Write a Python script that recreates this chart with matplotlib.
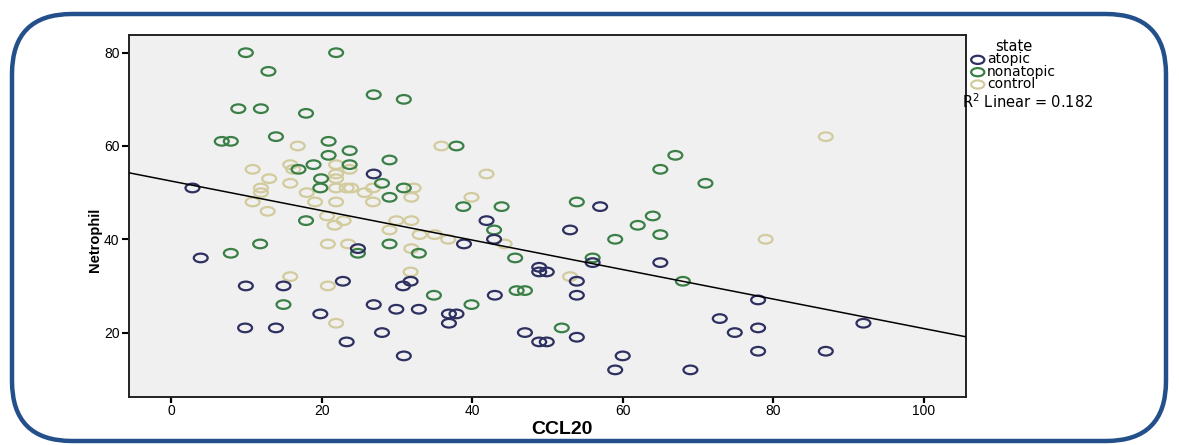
import numpy as np
import matplotlib
matplotlib.use("Agg")
import matplotlib.pyplot as plt
from matplotlib.path import Path
from matplotlib.patches import FancyBboxPatch
from matplotlib.transforms import IdentityTransform

# CCL20 vs Netrophil by state
atopic_x = [2.8, 3.9, 26.9, 9.9, 14.9, 9.8, 13.9, 19.8, 23.3, 22.8, 24.8, 26.9,
            28.0, 29.9, 32.9, 30.9, 30.8, 31.8, 38.9, 41.9, 42.9, 36.9, 37.9, 36.9,
            43.0, 48.9, 48.9, 49.9, 53.9, 53.9, 47.0, 53.9, 48.9, 49.9, 60.0, 59.0,
            69.0, 53.0, 57.0, 56.0, 65.0, 72.9, 74.9, 78.0, 78.0, 92.0, 78.0, 87.0]
atopic_y = [51, 36, 54, 30, 30, 21, 21, 24, 18, 31, 38, 26,
            20, 25, 25, 15, 30, 31, 39, 44, 40, 24, 24, 22,
            28, 34, 33, 33, 31, 28, 20, 19, 18, 18, 15, 12,
            12, 42, 47, 35, 35, 23, 20, 21, 27, 22, 16, 16]

nonatopic_x = [9.9, 21.9, 12.9, 26.9, 30.9, 8.9, 11.9, 17.9, 6.7, 7.9, 13.9, 20.9,
               20.9, 23.7, 29.0, 18.9, 23.7, 16.9, 19.9, 28.0, 19.8, 30.9, 29.0, 17.9,
               11.8, 7.9, 14.9, 24.8, 29.0, 32.9, 34.9, 39.9, 42.9, 45.9, 47.0, 51.9,
               56.0, 59.0, 62.0, 64.0, 65.0, 68.0, 53.9, 38.8, 43.9, 37.9, 67.0, 65.0,
               71.0, 45.7]
nonatopic_y = [80, 80, 76, 71, 70, 68, 68, 67, 61, 61, 62, 61,
               58, 59, 57, 56, 56, 55, 53, 52, 51, 51, 49, 44,
               39, 37, 26, 37, 39, 37, 28, 26, 42, 29, 29, 21,
               36, 40, 43, 45, 41, 31, 48, 47, 47, 60, 58, 55,
               52, 36]

control_x = [16.8, 35.9, 15.8, 16.2, 21.9, 10.8, 13.0, 15.8, 21.9, 21.9, 21.9, 23.3,
             11.9, 11.9, 18.0, 10.8, 19.1, 21.9, 12.8, 20.7, 22.9, 21.7, 23.7, 23.9,
             25.7, 26.8, 32.2, 31.9, 26.8, 41.9, 39.9, 29.9, 31.9, 29.0, 33.0, 35.0,
             36.8, 31.9, 23.5, 20.8, 15.8, 20.8, 21.9, 31.8, 44.3, 53.0, 79.0, 87.0]
control_y = [60, 60, 56, 55, 56, 55, 53, 52, 54, 53, 51, 51,
             51, 50, 50, 48, 48, 48, 46, 45, 44, 43, 55, 51,
             50, 51, 51, 49, 48, 54, 49, 44, 44, 42, 41, 41,
             40, 38, 39, 39, 32, 30, 22, 33, 39, 32, 40, 62]

states = ["atopic", "nonatopic", "control"]
state_colors = {"atopic": "#2d3060", "nonatopic": "#3a7f46", "control": "#d2cb9e"}
r2_text = "0.182"
x_ticks = [0, 20, 40, 60, 80, 100]
y_ticks = [20, 40, 60, 80]

fig = plt.figure(figsize=(11.79, 4.45), dpi=100)
fig.patch.set_facecolor("white")

ax = fig.add_axes([0.109, 0.108, 0.7101, 0.8134])
ax.set_facecolor("#f0f0f0")

# flattened open-oval marker
circle = Path.unit_circle()
oval = Path(circle.vertices * np.array([1.0, 0.62]), circle.codes)

series = {
    "atopic": (atopic_x, atopic_y),
    "nonatopic": (nonatopic_x, nonatopic_y),
    "control": (control_x, control_y),
}
handles = {}
for name in ["control", "nonatopic", "atopic"]:
    xs, ys = series[name]
    handles[name] = ax.scatter(xs, ys, marker=oval, s=100, facecolors="none",
                               edgecolors=state_colors[name], linewidths=1.6,
                               zorder=3)

# linear fit over all cases
all_x = np.concatenate([atopic_x, nonatopic_x, control_x])
all_y = np.concatenate([atopic_y, nonatopic_y, control_y])
slope, intercept = np.polyfit(all_x, all_y, 1)

ax.set_xlim(-5.7, 105.6)
ax.set_ylim(6.2, 83.8)
xl = np.array(ax.get_xlim())
ax.plot(xl, intercept + slope * xl, color="black", lw=1.1, zorder=4)

ax.set_xticks(x_ticks)
ax.set_yticks(y_ticks)
ax.tick_params(axis="x", direction="out", length=4, width=1.6,
               labelsize=10, pad=1)
ax.tick_params(axis="y", direction="out", length=5, width=1.5,
               labelsize=10, pad=1.5)
for lab in ax.get_xticklabels() + ax.get_yticklabels():
    lab.set_family("Liberation Sans")
for sp in ax.spines.values():
    sp.set_linewidth(1.4)
    sp.set_color("#222222")

fig.text(0.4767, 0.034, "CCL20", ha="center", va="center",
         fontsize=14, fontweight="bold", family="Liberation Sans")
fig.text(0.081, 0.461, "Netrophil", ha="center", va="center", rotation=90,
         fontsize=10.5, fontweight="bold", family="Liberation Sans")

leg = ax.legend([handles[s] for s in states], states, title="state",
                loc="upper left", bbox_to_anchor=(0.824, 0.912),
                bbox_transform=fig.transFigure, frameon=False,
                fontsize=10, title_fontsize=10.5, labelspacing=-0.12,
                handletextpad=0.2, handlelength=0.9, borderpad=0,
                borderaxespad=0, markerscale=0.95)

fig.text(0.816, 0.771, r"R$^2$ Linear = " + r2_text, ha="left", va="center",
         fontsize=10.5)

# rounded frame around the whole panel
frame = FancyBboxPatch((12, 4), 1154, 427,
                       boxstyle="round,pad=0,rounding_size=60",
                       transform=IdentityTransform(), fill=False,
                       edgecolor="#23508a", linewidth=3.2)
fig.add_artist(frame)

fig.savefig("out.png", dpi=100, facecolor="white")
